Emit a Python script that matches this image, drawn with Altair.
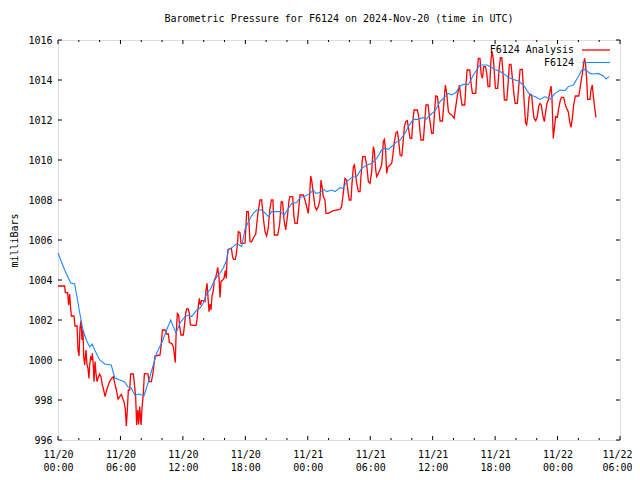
import json
import altair as alt
import pandas as pd

# ---------------- data ----------------
series_names = ["F6124 Analysis", "F6124"]
series_colors = ["#ff0000", "#1e88ff"]

# red: F6124 Analysis (hours after 11/20 00:00 UTC, millibars)
analysis_hours = [
    0.00, 0.64, 0.70, 0.93, 1.02, 1.12, 1.19, 1.28, 1.54, 1.63,
    1.83, 1.92, 2.02, 2.11, 2.21, 2.31, 2.40, 2.47, 2.56, 2.69,
    2.79, 2.88, 2.98, 3.04, 3.14, 3.24, 3.30, 3.40, 3.46, 3.56,
    3.65, 3.75, 3.84, 4.00, 4.13, 4.26, 4.39, 4.52, 4.68, 4.84,
    5.00, 5.16, 5.32, 5.45, 5.61, 5.77, 5.93, 6.09, 6.25, 6.34,
    6.47, 6.57, 6.66, 6.76, 6.89, 6.98, 7.24, 7.46, 7.56, 7.66,
    7.75, 7.85, 7.98, 8.07, 8.20, 8.30, 8.65, 8.74, 8.97, 9.10,
    9.22, 9.32, 9.80, 9.90, 10.03, 10.28, 10.44, 10.60, 10.70, 10.92,
    11.08, 11.18, 11.27, 11.34, 11.47, 11.59, 11.69, 11.82, 12.04, 12.14,
    12.27, 12.36, 12.52, 12.62, 12.72, 13.26, 13.36, 13.42, 13.58, 13.68,
    13.80, 14.00, 14.13, 14.22, 14.32, 14.41, 14.51, 14.61, 14.70, 14.80,
    14.93, 15.02, 15.15, 15.25, 15.34, 15.47, 15.57, 15.66, 15.82, 15.95,
    16.08, 16.17, 16.24, 16.34, 16.66, 16.78, 16.88, 17.04, 17.14, 17.23,
    17.33, 17.49, 17.58, 17.84, 17.97, 18.13, 18.29, 18.45, 18.60, 18.77,
    19.00, 19.20, 19.41, 19.57, 19.75, 19.90, 20.05, 20.20, 20.35, 20.50,
    20.65, 20.79, 21.11, 21.30, 21.45, 21.58, 21.72, 21.88, 22.05, 22.20,
    22.29, 22.55, 22.67, 22.77, 22.99, 23.09, 23.25, 23.57, 23.73, 23.89,
    24.05, 24.15, 24.28, 24.37, 24.53, 24.69, 24.85, 25.01, 25.17, 25.27,
    25.40, 25.49, 25.65, 25.75, 25.97, 26.45, 27.09, 27.25, 27.41, 27.57,
    27.73, 27.89, 27.99, 28.15, 28.25, 28.38, 28.47, 28.57, 28.70, 28.86,
    29.02, 29.11, 29.27, 29.50, 29.66, 29.82, 29.98, 30.14, 30.30, 30.40,
    30.53, 30.62, 30.78, 30.94, 31.10, 31.26, 31.36, 31.49, 31.58, 31.68,
    31.90, 32.06, 32.16, 32.32, 32.48, 32.61, 32.71, 32.87, 33.03, 33.15,
    33.28, 33.41, 33.57, 33.70, 33.83, 33.99, 34.08, 34.21, 34.53, 34.66,
    34.79, 34.88, 35.11, 35.20, 35.36, 35.56, 35.65, 35.75, 35.90, 36.05,
    36.17, 36.29, 36.45, 36.61, 36.71, 36.94, 37.10, 37.22, 37.35, 37.51,
    37.67, 37.83, 38.06, 38.22, 38.38, 38.57, 38.70, 38.82, 39.08, 39.21,
    39.31, 39.56, 39.69, 39.82, 40.14, 40.23, 40.39, 40.55, 40.65, 40.78,
    40.91, 41.07, 41.20, 41.32, 41.48, 41.61, 41.71, 41.84, 41.93, 42.03,
    42.25, 42.38, 42.51, 42.64, 42.76, 42.89, 43.12, 43.25, 43.37, 43.53,
    43.66, 43.82, 43.92, 44.14, 44.27, 44.40, 44.61, 44.71, 44.81, 44.93,
    45.03, 45.13, 45.25, 45.35, 45.51, 45.61, 45.74, 45.90, 46.06, 46.18,
    46.31, 46.44, 46.57, 46.73, 46.86, 46.98, 47.11, 47.24, 47.37, 47.46,
    47.53, 47.59, 47.69, 47.82, 47.98, 48.11, 48.27, 48.39, 48.59, 48.71,
    48.87, 49.03, 49.16, 49.29, 49.42, 49.55, 49.71, 50.03, 50.16, 50.28,
    50.41, 50.51, 50.60, 50.70, 50.80, 50.89, 51.12, 51.21, 51.34, 51.44,
    51.56, 51.69,
]
analysis_mb = [
    1003.70, 1003.70, 1003.37, 1003.37, 1002.75, 1003.30, 1002.75, 1002.20, 1002.20, 1001.70,
    1001.70, 1000.50, 1000.20, 1001.58, 1001.97, 1001.00, 1001.50, 1000.17, 999.75, 1000.50,
    999.75, 999.58, 999.08, 999.75, 1000.13, 1000.00, 1000.33, 999.67, 998.92, 999.92,
    999.33, 998.92, 999.08, 999.30, 999.17, 998.75, 998.50, 998.17, 998.50, 998.75,
    998.97, 999.08, 999.17, 998.83, 998.50, 998.05, 998.17, 998.28, 998.03, 997.92,
    997.53, 996.70, 997.50, 998.50, 998.50, 999.30, 999.30, 998.17, 996.75, 997.50,
    996.78, 997.67, 996.75, 997.58, 998.33, 999.33, 999.30, 998.92, 998.92, 999.25,
    999.75, 1000.20, 1000.25, 1000.67, 1001.50, 1001.50, 1001.30, 1001.30, 1000.87, 1000.83,
    1000.67, 1000.25, 999.87, 1001.17, 1002.33, 1002.25, 1001.67, 1001.25, 1001.25, 1001.67,
    1002.33, 1002.55, 1002.55, 1002.33, 1001.75, 1001.72, 1002.03, 1002.42, 1003.08, 1002.75,
    1002.97, 1002.97, 1002.92, 1003.50, 1003.83, 1003.17, 1002.42, 1002.80, 1002.50, 1003.20,
    1003.50, 1004.00, 1004.13, 1004.33, 1004.63, 1004.13, 1003.13, 1003.92, 1004.00, 1004.08,
    1004.47, 1004.08, 1005.00, 1005.53, 1005.58, 1005.13, 1005.03, 1005.03, 1005.33, 1005.75,
    1006.42, 1006.37, 1005.83, 1005.83, 1005.85, 1007.42, 1007.42, 1005.92, 1005.90, 1006.10,
    1006.30, 1007.30, 1008.00, 1008.00, 1007.00, 1006.40, 1006.20, 1006.60, 1007.50, 1008.00,
    1008.00, 1006.25, 1006.25, 1006.80, 1007.92, 1007.90, 1007.00, 1006.50, 1007.20, 1008.00,
    1008.17, 1008.17, 1007.17, 1006.83, 1006.83, 1007.33, 1008.25, 1008.25, 1008.00, 1007.67,
    1007.33, 1008.00, 1009.20, 1009.00, 1008.33, 1007.67, 1007.50, 1007.67, 1008.00, 1009.00,
    1008.58, 1008.17, 1008.00, 1007.33, 1007.33, 1007.47, 1007.53, 1007.67, 1008.33, 1009.08,
    1009.00, 1008.33, 1008.00, 1008.00, 1008.83, 1009.67, 1009.75, 1009.42, 1008.83, 1008.42,
    1008.42, 1009.17, 1010.17, 1010.17, 1009.75, 1008.92, 1008.83, 1009.42, 1010.67, 1010.42,
    1009.50, 1009.17, 1009.33, 1009.53, 1009.75, 1010.92, 1011.03, 1010.42, 1009.33, 1009.63,
    1009.75, 1009.83, 1010.17, 1010.92, 1011.37, 1011.42, 1011.08, 1010.25, 1010.20, 1010.83,
    1011.67, 1011.92, 1011.97, 1011.50, 1011.08, 1011.08, 1011.83, 1012.50, 1012.50, 1012.17,
    1011.42, 1011.00, 1011.00, 1011.67, 1012.75, 1012.75, 1012.33, 1011.90, 1011.33, 1011.33,
    1012.25, 1013.20, 1013.17, 1012.50, 1011.95, 1011.95, 1013.00, 1013.75, 1013.33, 1012.42,
    1012.30, 1012.25, 1012.08, 1012.67, 1013.25, 1013.75, 1013.17, 1012.75, 1012.75, 1013.83,
    1014.50, 1014.50, 1013.83, 1013.33, 1013.33, 1014.17, 1015.08, 1015.08, 1014.33, 1014.08,
    1014.67, 1014.67, 1014.33, 1013.67, 1013.67, 1015.08, 1015.42, 1015.00, 1014.33, 1013.58,
    1013.58, 1014.50, 1015.12, 1015.12, 1014.33, 1013.00, 1013.00, 1013.83, 1014.78, 1014.78,
    1014.08, 1013.25, 1012.83, 1012.83, 1013.67, 1014.53, 1014.53, 1013.67, 1012.75, 1011.83,
    1011.75, 1012.17, 1013.08, 1013.30, 1013.25, 1012.67, 1012.08, 1011.97, 1012.17, 1012.67,
    1012.83, 1012.75, 1012.25, 1011.92, 1012.42, 1012.83, 1013.00, 1013.33, 1013.70, 1013.17,
    1012.00, 1011.08, 1011.58, 1012.17, 1012.13, 1012.58, 1013.00, 1013.13, 1013.13, 1012.83,
    1012.58, 1012.42, 1011.92, 1011.63, 1012.08, 1012.75, 1013.20, 1013.20, 1013.58, 1014.00,
    1014.42, 1014.83, 1015.08, 1014.75, 1014.00, 1013.03, 1013.03, 1013.50, 1013.75, 1013.17,
    1012.67, 1012.13,
]

# blue: F6124 observations
obs_hours = [
    0.00, 0.64, 1.22, 1.60, 1.76, 2.09, 2.40, 2.72, 3.05, 3.27,
    3.53, 4.01, 4.49, 5.12, 5.45, 5.93, 6.41, 6.73, 7.04, 7.37,
    7.85, 8.26, 8.65, 9.13, 9.48, 9.96, 10.44, 10.83, 11.08, 11.34,
    11.72, 12.20, 12.52, 12.85, 13.33, 13.64, 13.96, 14.29, 14.61, 14.92,
    15.25, 15.57, 15.88, 16.21, 16.36, 16.84, 17.10, 17.42, 17.65, 17.97,
    18.45, 18.77, 19.09, 19.57, 19.89, 20.21, 20.53, 21.33, 21.74, 22.13,
    22.46, 22.94, 23.25, 23.73, 24.21, 24.53, 24.76, 25.18, 25.59, 25.82,
    26.30, 26.62, 27.10, 27.41, 27.74, 28.22, 28.70, 29.18, 29.66, 30.14,
    30.62, 31.10, 31.33, 31.74, 32.22, 32.55, 32.86, 33.34, 33.66, 34.14,
    34.62, 35.04, 35.36, 35.75, 36.23, 36.71, 37.19, 37.50, 37.83, 38.24,
    38.63, 38.95, 39.43, 39.91, 40.55, 41.19, 41.51, 41.99, 42.47, 42.79,
    43.27, 43.75, 44.23, 44.71, 45.35, 45.83, 46.31, 46.80, 47.28, 47.76,
    48.24, 48.72, 49.03, 49.52, 50.00, 50.32, 50.64, 51.12, 51.44, 51.92,
    52.40, 52.66, 52.97,
]
obs_mb = [
    1005.35, 1004.50, 1003.85, 1003.80, 1003.35, 1002.35, 1001.50, 1001.00, 1000.65, 1000.80,
    1000.50, 1000.00, 999.80, 999.75, 999.10, 999.00, 998.90, 998.65, 998.60, 998.25,
    998.30, 998.20, 998.85, 999.70, 1000.35, 1000.85, 1001.50, 1002.00, 1001.67, 1001.35,
    1001.85, 1002.17, 1002.25, 1002.17, 1002.50, 1002.60, 1002.85, 1003.35, 1003.50, 1003.85,
    1004.15, 1004.35, 1004.60, 1005.00, 1005.50, 1005.67, 1005.80, 1005.75, 1005.67, 1006.55,
    1007.08, 1007.33, 1007.50, 1007.50, 1007.35, 1007.17, 1007.42, 1007.42, 1007.25, 1007.58,
    1007.83, 1007.87, 1008.12, 1008.20, 1008.33, 1008.50, 1008.33, 1008.37, 1008.53, 1008.42,
    1008.50, 1008.42, 1008.62, 1008.58, 1008.92, 1009.13, 1009.17, 1009.58, 1009.75, 1009.83,
    1010.08, 1010.50, 1010.58, 1010.53, 1010.75, 1010.92, 1011.00, 1011.33, 1011.67, 1012.03,
    1012.03, 1012.13, 1012.03, 1012.25, 1012.45, 1012.92, 1013.17, 1013.33, 1013.25, 1013.37,
    1013.70, 1013.78, 1013.78, 1014.25, 1014.75, 1014.75, 1014.67, 1014.53, 1014.42, 1014.33,
    1014.13, 1014.03, 1013.95, 1013.75, 1013.25, 1013.17, 1013.03, 1013.17, 1013.03, 1013.33,
    1013.50, 1013.47, 1013.67, 1013.75, 1014.17, 1014.50, 1014.53, 1014.33, 1014.30, 1014.33,
    1014.20, 1014.05, 1014.17,
]

date_labels = ["11/20", "11/20", "11/20", "11/20", "11/21", "11/21", "11/21", "11/21", "11/22", "11/22"]
time_labels = ["00:00", "06:00", "12:00", "18:00", "00:00", "06:00", "12:00", "18:00", "00:00", "06:00"]
x_major = [0, 6, 12, 18, 24, 30, 36, 42, 48, 54]
x_minor = [h for h in range(0, 55, 2) if h % 6 != 0]
y_ticks = [996, 998, 1000, 1002, 1004, 1006, 1008, 1010, 1012, 1014, 1016]

title_text = "Barometric Pressure for F6124 on 2024-Nov-20 (time in UTC)"
y_title = "milliBars"

assert len(analysis_hours) == len(analysis_mb)
assert len(obs_hours) == len(obs_mb)

# ---------------- chart ----------------
FONT = "DejaVu Sans Mono"
FS = 10
W, H = 562, 400
MAJ, MIN = 4, 2

xs = alt.Scale(domain=[0, 54], nice=False, zero=False)
ys = alt.Scale(domain=[996, 1016], nice=False, zero=False)

label_expr = "[{d}[round(datum.value/6)], {t}[round(datum.value/6)]]".format(
    d=json.dumps(date_labels), t=json.dumps(time_labels))

x_axis = alt.Axis(values=x_major, labelExpr=label_expr, ticks=False, tickSize=0,
                  domain=False, grid=False, labelFont=FONT, labelFontSize=FS,
                  labelColor="black", labelPadding=9, labelLineHeight=13,
                  labelBaseline="top", labelFlush=False, labelOverlap=False,
                  labelBound=False,
                  labelOffset={"condition": {"test": "datum.value >= 54", "value": -3},
                               "value": 0},
                  title=None)
y_axis = alt.Axis(values=y_ticks, format="d", ticks=False, tickSize=0, domain=False, grid=False,
                  labelFont=FONT, labelFontSize=FS, labelColor="black", labelPadding=6,
                  labelOverlap=False, labelBound=False, labelFlush=False,
                  title=y_title, titleFont=FONT, titleFontSize=FS, titleFontWeight="normal",
                  titleColor="black", titleAngle=270, titleX=-44, titleY=H / 2,
                  titleAlign="center", titleBaseline="middle")

X = lambda: alt.X("h:Q", scale=xs, axis=x_axis)
Y = lambda: alt.Y("p:Q", scale=ys, axis=y_axis)

df_a = pd.DataFrame({"h": analysis_hours, "p": analysis_mb})
df_o = pd.DataFrame({"h": obs_hours, "p": obs_mb})

line_a = alt.Chart(df_a).mark_line(color=series_colors[0], strokeWidth=1.3).encode(x=X(), y=Y())
line_o = alt.Chart(df_o).mark_line(color=series_colors[1], strokeWidth=1.1).encode(x=X(), y=Y())

df_xmaj = pd.DataFrame({"h": x_major})
df_xmin = pd.DataFrame({"h": x_minor})
df_y = pd.DataFrame({"p": y_ticks})

tick_layers = []
for df, ln in ((df_xmaj, MAJ), (df_xmin, MIN)):
    tick_layers.append(alt.Chart(df).mark_rule(color="black", strokeWidth=1).encode(
        x=X(), y=alt.value(H), y2=alt.value(H - ln)))
    tick_layers.append(alt.Chart(df).mark_rule(color="black", strokeWidth=1).encode(
        x=X(), y=alt.value(0), y2=alt.value(ln)))
tick_layers.append(alt.Chart(df_y).mark_rule(color="black", strokeWidth=1).encode(
    y=Y(), x=alt.value(0), x2=alt.value(MAJ)))
tick_layers.append(alt.Chart(df_y).mark_rule(color="black", strokeWidth=1).encode(
    y=Y(), x=alt.value(W), x2=alt.value(W - MAJ)))

legend_layers = []
for i, (name, col) in enumerate(zip(series_names, series_colors)):
    yy = 10 + i * 12.5
    legend_layers.append(alt.Chart(pd.DataFrame({"name": [name]})).mark_text(
        align="right", baseline="middle", font=FONT, fontSize=FS, color="black").encode(
        text="name:N", x=alt.value(516), y=alt.value(yy)))
    legend_layers.append(alt.Chart(pd.DataFrame({"name": [name]})).mark_rule(
        color=col, strokeWidth=1.3 if i == 0 else 1.1).encode(
        x=alt.value(524), x2=alt.value(552), y=alt.value(yy)))

chart = alt.layer(line_a, line_o, *tick_layers, *legend_layers).properties(
    width=W, height=H,
    title=alt.TitleParams(title_text, font=FONT, fontSize=FS, fontWeight="normal",
                          anchor="middle", color="black", offset=11),
    autosize=alt.AutoSizeParams(type="none"),
    padding={"left": 50, "top": 32, "right": 12, "bottom": 36},
).configure_view(stroke="black", strokeWidth=1).configure(background="white")

chart.save("out.html", embed_options={"renderer": "svg", "actions": False})
